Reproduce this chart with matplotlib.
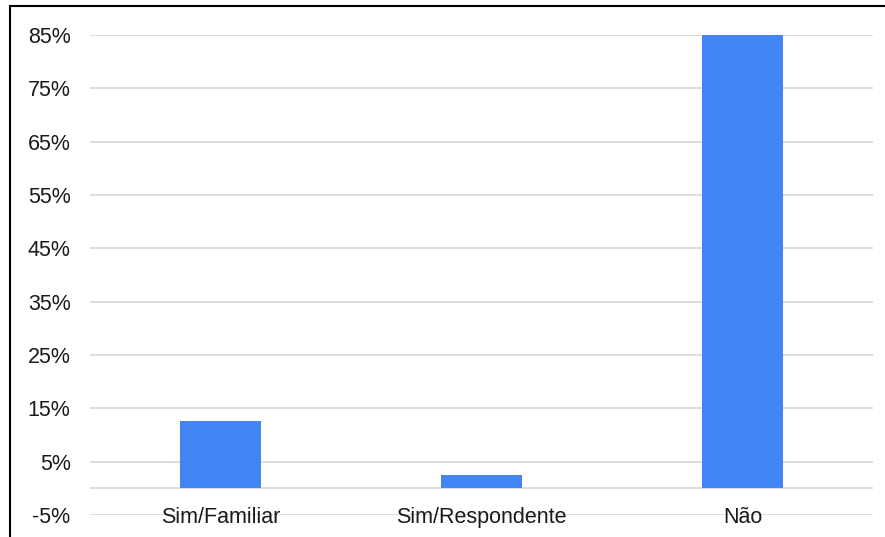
import matplotlib
matplotlib.use("Agg")
import matplotlib.pyplot as plt
from matplotlib.lines import Line2D

# dados do gráfico
categorias = ["Sim/Familiar", "Sim/Respondente", "Não"]
valores = [12.6, 2.5, 85.0]
ticks_y = [-5, 5, 15, 25, 35, 45, 55, 65, 75, 85]
rotulos_y = [f"{t}%" for t in ticks_y]

plt.rcParams['font.family'] = ['Liberation Sans', 'DejaVu Sans']

W, H = 885, 537
fig = plt.figure(figsize=(W / 100, H / 100), dpi=100)
ax = fig.add_axes([90 / W, 1 - 515 / H, (873 - 90) / W, (515 - 35) / H])

x = list(range(len(categorias)))
ax.bar(x, valores, width=0.31, color='#4285f4', zorder=3)

ax.set_xlim(-0.5, len(categorias) - 0.5)
ax.set_ylim(-5, 85)
ax.set_yticks(ticks_y)
ax.set_yticklabels(rotulos_y)
# linhas de grade (inclui a linha do zero)
for t in ticks_y + [0]:
    ax.axhline(t, color='#dadada', linewidth=1.3, zorder=1)

ax.set_xticks(x)
ax.set_xticklabels(categorias)
for lbl in ax.get_xticklabels():
    lbl.set_verticalalignment('center')

ax.tick_params(axis='y', length=0, pad=14, labelsize=15.5, labelcolor='#1a1a1a')
ax.tick_params(axis='x', length=0, pad=1.5, labelsize=15.5, labelcolor='#1a1a1a')
for s in ax.spines.values():
    s.set_visible(False)

# borda preta (esquerda e topo)
fig.add_artist(Line2D([10 / W, 10 / W], [0, 1 - 6 / H], color='black', linewidth=1.5))
fig.add_artist(Line2D([10 / W, 1], [1 - 6 / H, 1 - 6 / H], color='black', linewidth=1.5))

fig.savefig('out.png', dpi=100)
